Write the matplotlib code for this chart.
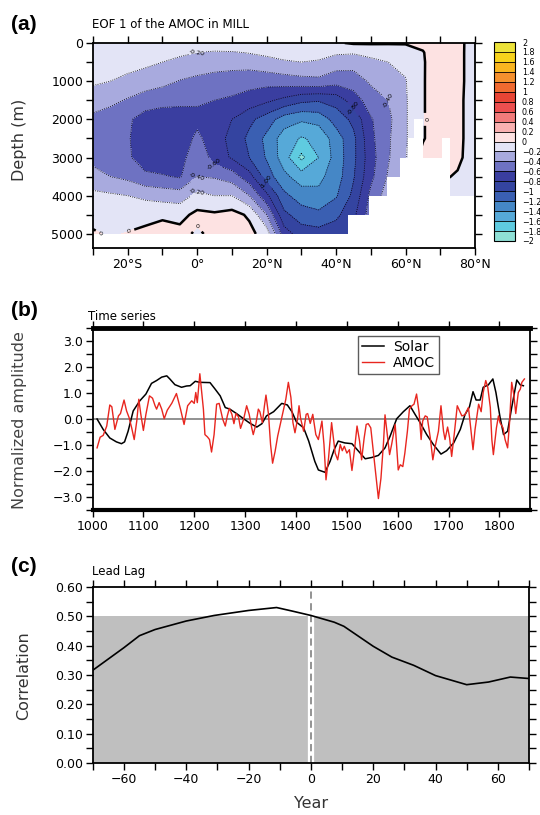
import numpy as np
import matplotlib
matplotlib.use('Agg')
import matplotlib.pyplot as plt
from matplotlib.colors import ListedColormap, BoundaryNorm
from matplotlib.ticker import MultipleLocator, FixedLocator, FuncFormatter

plt.rcParams['font.family'] = 'DejaVu Sans'

# ---------------- (a) EOF 1 of the AMOC ----------------
lat = [-30, -25, -20, -15, -10, -5, 0, 5, 10, 15, 20, 25, 30, 35, 40, 45, 50, 55, 60, 65, 70, 75, 80]
depth = [0, 250, 500, 1000, 1500, 2000, 2500, 3000, 3500, 4000, 4500, 5000]
eof1 = [
    [-0.03, -0.03, -0.03, -0.03, -0.03, -0.03, -0.03, -0.03, -0.03, -0.03, -0.03, -0.03, -0.03, -0.03, -0.02, 0.02, 0.02, 0.02, 0.02, 0.04, 0.10, 0.05, -0.08],
    [-0.08, -0.09, -0.10, -0.12, -0.14, -0.17, -0.20, -0.23, -0.22, -0.19, -0.16, -0.13, -0.12, -0.13, -0.17, -0.18, -0.14, -0.15, -0.12, -0.01, 0.12, 0.06, -0.10],
    [-0.11, -0.12, -0.14, -0.16, -0.20, -0.24, -0.28, -0.31, -0.32, -0.31, -0.26, -0.22, -0.20, -0.22, -0.30, -0.32, -0.25, -0.20, -0.16, -0.02, 0.14, 0.06, -0.10],
    [-0.17, -0.20, -0.24, -0.29, -0.34, -0.41, -0.45, -0.48, -0.50, -0.53, -0.53, -0.50, -0.47, -0.45, -0.52, -0.50, -0.37, -0.30, -0.21, -0.02, 0.15, 0.06, -0.10],
    [-0.30, -0.35, -0.42, -0.50, -0.54, -0.55, -0.57, -0.60, -0.63, -0.68, -0.76, -0.85, -0.95, -0.98, -0.92, -0.70, -0.50, -0.40, -0.22, -0.02, 0.15, 0.05, -0.10],
    [-0.45, -0.50, -0.57, -0.68, -0.70, -0.70, -0.66, -0.72, -0.80, -0.95, -1.10, -1.30, -1.37, -1.33, -1.12, -0.95, -0.62, -0.45, -0.22, -0.02, 0.15, 0.05, -0.10],
    [-0.46, -0.52, -0.58, -0.72, -0.76, -0.74, -0.55, -0.72, -0.85, -1.05, -1.25, -1.50, -1.62, -1.55, -1.30, -1.05, -0.65, -0.43, -0.22, -0.02, 0.15, 0.05, -0.10],
    [-0.46, -0.52, -0.57, -0.70, -0.75, -0.72, -0.40, -0.70, -0.82, -1.00, -1.22, -1.50, -1.85, -1.60, -1.32, -1.05, -0.68, -0.42, -0.22, 0.08, 0.12, 0.04, -0.10],
    [-0.33, -0.40, -0.45, -0.56, -0.58, -0.62, -0.40, -0.42, -0.50, -0.72, -1.10, -1.35, -1.50, -1.45, -1.30, -1.02, -0.65, -0.38, -0.20, 0.02, 0.03, -0.02, -0.10],
    [-0.15, -0.17, -0.20, -0.24, -0.28, -0.30, -0.15, -0.20, -0.20, -0.40, -0.75, -1.15, -1.30, -1.35, -1.22, -0.95, -0.55, -0.30, -0.18, -0.05, -0.05, -0.05, -0.10],
    [-0.06, -0.07, -0.08, -0.07, -0.04, -0.06, 0.05, 0.03, 0.07, -0.03, -0.40, -0.95, -1.10, -1.15, -1.05, -0.85, -0.50, -0.30, -0.15, -0.05, -0.05, -0.05, -0.10],
    [0.02, -0.02, 0.01, 0.05, 0.10, 0.06, -0.03, 0.05, 0.10, 0.06, -0.10, -0.70, -0.90, -0.92, -0.88, -0.80, -0.50, -0.30, -0.15, -0.05, -0.05, -0.05, -0.10],
]
# ocean floor (white staircase), depth per latitude band
floor_lat = [-30, 43.5, 49.6, 54.6, 58.4, 60.8, 62.5, 65.1, 70.4, 72.8, 80]
floor_depth = [5000, 4500, 4000, 3500, 3000, 2500, 2000, 3000, 2500, 4000]

cbar_levels = [-2, -1.8, -1.6, -1.4, -1.2, -1, -0.8, -0.6, -0.4, -0.2, 0,
               0.2, 0.4, 0.6, 0.8, 1, 1.2, 1.4, 1.6, 1.8, 2]
fill_colors = ['#8fe0d6', '#5fcbe0', '#56a9d8', '#4587c6', '#3a5fb2', '#3444a0', '#3a3ea0',
               '#6e72c2', '#a8aade', '#e3e4f6', '#fde2e2', '#f9b1b1', '#f27b7b', '#ec4f4f',
               '#e84535', '#f06a30', '#f5902e', '#f9b520', '#f7d21c', '#ece23a']

# ---------------- (b) time series ----------------
solar_year = [1009, 1021, 1034, 1047, 1057, 1063, 1070, 1080, 1093, 1105, 1116, 1126, 1136, 1146,
              1152, 1162, 1175, 1185, 1192, 1202, 1211, 1231, 1241, 1251, 1261, 1270, 1283, 1297,
              1310, 1323, 1333, 1342, 1356, 1372, 1383, 1392, 1401, 1415, 1425, 1437, 1444, 1457,
              1467, 1475, 1483, 1496, 1510, 1523, 1536, 1549, 1562, 1575, 1585, 1598, 1611, 1624,
              1634, 1644, 1657, 1670, 1685, 1696, 1710, 1723, 1732, 1741, 1748, 1754, 1762, 1768,
              1778, 1787, 1793, 1801, 1808, 1816, 1824, 1834, 1841, 1847]
solar = [0.0, -0.40, -0.73, -0.88, -0.95, -0.88, -0.47, 0.31, 0.70, 0.96, 1.37, 1.48, 1.61, 1.66,
         1.54, 1.32, 1.22, 1.27, 1.28, 1.45, 1.41, 1.40, 1.15, 0.89, 0.44, 0.38, 0.21, 0.01,
         -0.17, -0.31, -0.18, 0.12, 0.28, 0.60, 0.54, 0.28, -0.12, -0.34, -0.85, -1.63, -1.96, -2.05,
         -1.63, -1.18, -0.85, -0.92, -0.95, -1.24, -1.53, -1.48, -1.40, -1.11, -0.66, 0.01, 0.28, 0.51,
         0.18, -0.14, -0.60, -0.98, -1.35, -1.22, -0.92, -0.40, 0.16, 0.47, 1.05, 0.73, 0.73, 1.22,
         1.31, 1.54, 1.02, 0.08, -0.60, -0.47, 0.44, 1.50, 1.31, 1.28]

amoc_year = [1009, 1015, 1021, 1028, 1034, 1038, 1044, 1051, 1055, 1062, 1067, 1072, 1077, 1082,
             1087, 1091, 1095, 1100, 1105, 1112, 1118, 1123, 1126, 1131, 1136, 1141, 1147, 1156,
             1165, 1173, 1180, 1187, 1195, 1200, 1203, 1206, 1211, 1218, 1221, 1226, 1230, 1234,
             1239, 1244, 1249, 1256, 1261, 1265, 1269, 1274, 1278, 1282, 1287, 1291, 1297, 1303,
             1308, 1313, 1316, 1321, 1326, 1329, 1334, 1338, 1341, 1346, 1350, 1354, 1359, 1364,
             1369, 1375, 1380, 1385, 1390, 1394, 1398, 1403, 1406, 1409, 1415, 1420, 1423, 1428,
             1433, 1439, 1444, 1451, 1455, 1459, 1464, 1470, 1477, 1482, 1487, 1491, 1495, 1500,
             1505, 1510, 1515, 1520, 1525, 1529, 1534, 1538, 1542, 1547, 1552, 1557, 1562, 1567,
             1572, 1575, 1578, 1584, 1588, 1595, 1601, 1605, 1610, 1614, 1619, 1623, 1628, 1632,
             1637, 1642, 1646, 1649, 1654, 1658, 1664, 1669, 1673, 1680, 1685, 1690, 1693, 1698,
             1702, 1706, 1711, 1717, 1723, 1726, 1732, 1739, 1742, 1748, 1752, 1759, 1764, 1768,
             1773, 1777, 1782, 1785, 1788, 1794, 1798, 1801, 1807, 1811, 1816, 1820, 1824, 1828,
             1832, 1837, 1841, 1844, 1849]
amoc = [-1.11, -0.70, -0.63, -0.27, 0.54, 0.47, -0.40, 0.12, 0.21, 0.73, 0.31, 0.05, -0.34, -0.79,
        -0.08, 0.76, 0.18, -0.44, 0.18, 0.89, 0.80, 0.51, 0.38, 0.63, 0.38, 0.01, 0.34, 0.61,
        0.98, 0.38, -0.21, 0.51, 0.70, 0.60, 1.02, 0.63, 1.74, 0.38, -0.60, -0.69, -0.79, -1.27,
        -0.60, 0.57, 0.60, -0.01, -0.27, 0.12, 0.41, 0.18, -0.18, 0.21, 0.08, -0.36, -0.01, 0.51,
        0.18, -0.34, -0.60, -0.21, 0.38, 0.28, -0.14, 0.51, 0.92, 0.18, -0.98, -1.70, -1.24, -0.66,
        -0.21, 0.31, 0.76, 1.41, 0.83, -0.14, -0.53, -0.01, 0.51, 0.03, -0.47, 0.18, 0.21, -0.17,
        0.18, -0.60, -0.79, -0.08, -0.98, -2.34, -1.50, -0.14, -1.31, -1.57, -0.98, -1.22, -1.05, -1.31,
        -1.18, -1.98, -1.18, -0.27, -0.85, -1.57, -0.73, -0.21, -0.18, -0.34, -1.24, -2.15, -3.06, -2.28,
        -0.92, 0.16, -0.34, -1.37, -0.98, -0.21, -1.96, -1.76, -1.83, -1.31, -0.47, 0.38, 0.51, 0.57,
        0.96, 0.25, -0.79, -0.08, 0.12, 0.08, -0.73, -1.57, -1.11, -0.47, 0.51, -0.47, -0.79, -0.31,
        -0.73, -1.44, -0.60, 0.51, 0.25, 0.12, 0.16, 0.44, -0.08, -1.18, -0.40, 0.57, 0.28, 1.02,
        1.48, 1.22, 0.44, -0.79, -1.37, -0.34, 0.12, -0.14, -0.34, -0.79, -1.11, -0.08, 1.41, 0.96,
        0.21, 1.02, 1.15, 1.41, 1.54]

# ---------------- (c) lead lag correlation ----------------
lag = [-70, -60, -55, -50, -40, -31, -20, -11, -6, 0, 7.5, 10.6, 20, 26, 33, 40, 50, 57, 64, 70]
corr = [0.316, 0.393, 0.434, 0.455, 0.484, 0.503, 0.520, 0.530, 0.518, 0.503, 0.480, 0.466,
        0.398, 0.361, 0.333, 0.298, 0.267, 0.276, 0.293, 0.288]
sig_level = 0.5

W, H = 540, 815
fig = plt.figure(figsize=(W / 100, H / 100), dpi=100)


def box(l, t, r, b):
    return [l / W, 1 - b / H, (r - l) / W, (b - t) / H]


def style_ticks(ax):
    ax.tick_params(which='both', direction='out', length=5, width=1, top=True, right=True,
                   labelsize=9, pad=2)


def minus(s):
    return s.replace('-', '\u2212')


# ---- panel (a)
ax1 = fig.add_axes(box(93, 43, 475, 248))
cmap = ListedColormap(fill_colors)
norm = BoundaryNorm(cbar_levels, cmap.N)
z = np.array(eof1)
cf = ax1.contourf(lat, depth, z, levels=cbar_levels, cmap=cmap, norm=norm)
neg = [v for v in cbar_levels if v < 0]
cl = ax1.contour(lat, depth, z, levels=neg, colors='k', linewidths=0.6, linestyles='dotted')
c0 = ax1.contour(lat, depth, z, levels=[0], colors='k', linewidths=1.8)
ax1.clabel(cl, levels=[-1.0, -0.8, -0.6, -0.4, -0.2], fmt='%.2f', fontsize=4.5, inline=True,
           inline_spacing=1)
ax1.clabel(c0, fmt='0', fontsize=4.5, inline=True)
ax1.fill_between(floor_lat, floor_depth + [floor_depth[-1]], 5400, step='post',
                 color='white', lw=0, zorder=2.5)
ax1.set_xlim(-30, 80)
ax1.set_ylim(5370, 0)
ax1.xaxis.set_major_locator(FixedLocator([-20, 0, 20, 40, 60, 80]))
ax1.xaxis.set_minor_locator(MultipleLocator(10))
ax1.xaxis.set_major_formatter(FuncFormatter(
    lambda v, p: '0\u00b0' if v == 0 else f'{abs(v):.0f}\u00b0{"S" if v < 0 else "N"}'))
ax1.yaxis.set_major_locator(MultipleLocator(1000))
ax1.yaxis.set_minor_locator(MultipleLocator(500))
style_ticks(ax1)
for s in ax1.spines.values():
    s.set_linewidth(1.3)
    s.set_zorder(4)

cax = fig.add_axes(box(494, 42, 515, 241))
cb = fig.colorbar(cf, cax=cax, ticks=cbar_levels, drawedges=True)
cb.ax.set_yticklabels([minus(f'{v:g}') for v in cbar_levels])
cb.ax.tick_params(length=0, labelsize=5.8, pad=5)
cb.outline.set_linewidth(0.8)
cb.dividers.set_linewidth(0.6)

# ---- panel (b)
ax2 = fig.add_axes(box(92.5, 328, 530, 510))
ax2.axhline(0, color='#7f7f7f', lw=1.2)
ax2.plot(solar_year, solar, color='k', lw=1.1, label='Solar')
ax2.plot(amoc_year, amoc, color='#e8261f', lw=1.0, label='AMOC')
ax2.set_xlim(1000, 1860)
ax2.set_ylim(-3.5, 3.5)
ax2.xaxis.set_major_locator(MultipleLocator(100))
ax2.yaxis.set_major_locator(MultipleLocator(1))
ax2.yaxis.set_minor_locator(MultipleLocator(0.5))
ax2.yaxis.set_major_formatter(FuncFormatter(lambda v, p: minus(f'{v:.1f}')))
style_ticks(ax2)
ax2.spines['top'].set_linewidth(3.5)
ax2.spines['bottom'].set_linewidth(3)
ax2.spines['left'].set_linewidth(1.3)
ax2.spines['right'].set_linewidth(1.3)
leg = ax2.legend(loc='upper left', bbox_to_anchor=(0.607, 0.958), fontsize=10, frameon=True,
                 fancybox=False, edgecolor='#333333', handlelength=1.6, borderpad=0.3,
                 labelspacing=0.15, handletextpad=0.6, borderaxespad=0)
leg.get_frame().set_linewidth(1.0)

# ---- panel (c)
ax3 = fig.add_axes(box(92.7, 587, 529, 763))
ax3.fill_between([-70, 70], 0, sig_level, color='#bfbfbf', lw=0)
ax3.plot([0, 0], [0, sig_level], color='white', lw=4.5)
ax3.axvline(0, color='#8a8a8a', lw=1.3, ls=(0, (4, 2.5)))
ax3.plot(lag, corr, color='k', lw=1.2)
ax3.set_xlim(-70, 70)
ax3.set_ylim(0, 0.6)
ax3.xaxis.set_major_locator(MultipleLocator(20))
ax3.xaxis.set_minor_locator(MultipleLocator(10))
ax3.xaxis.set_major_formatter(FuncFormatter(lambda v, p: minus(f'{v:.0f}')))
ax3.yaxis.set_major_locator(MultipleLocator(0.1))
ax3.yaxis.set_minor_locator(MultipleLocator(0.05))
ax3.yaxis.set_major_formatter(FuncFormatter(lambda v, p: f'{v:.2f}'))
style_ticks(ax3)
for s in ax3.spines.values():
    s.set_linewidth(1.3)

# ---- texts
for txt, y in [('(a)', 25), ('(b)', 311), ('(c)', 567)]:
    fig.text(11 / W, 1 - y / H, txt, fontsize=15, fontweight='bold', va='center',
             family='Liberation Sans')
fig.text(92 / W, 1 - 24 / H, 'EOF 1 of the AMOC in MILL', fontsize=8.5, va='center')
fig.text(88 / W, 1 - 317 / H, 'Time series', fontsize=8.5, va='center')
fig.text(92 / W, 1 - 572 / H, 'Lead Lag', fontsize=8.5, va='center')
fig.text(20 / W, 1 - 140 / H, 'Depth (m)', fontsize=11.5, rotation=90, ha='center', va='center',
         color='#333333')
fig.text(20 / W, 1 - 420 / H, 'Normalized amplitude', fontsize=11.5, rotation=90, ha='center',
         va='center', color='#444444')
fig.text(24 / W, 1 - 676 / H, 'Correlation', fontsize=11.5, rotation=90, ha='center', va='center',
         color='#333333')
fig.text(311 / W, 1 - 804 / H, 'Year', fontsize=11.5, ha='center', va='center', color='#333333')

fig.savefig('out.png', dpi=100)
